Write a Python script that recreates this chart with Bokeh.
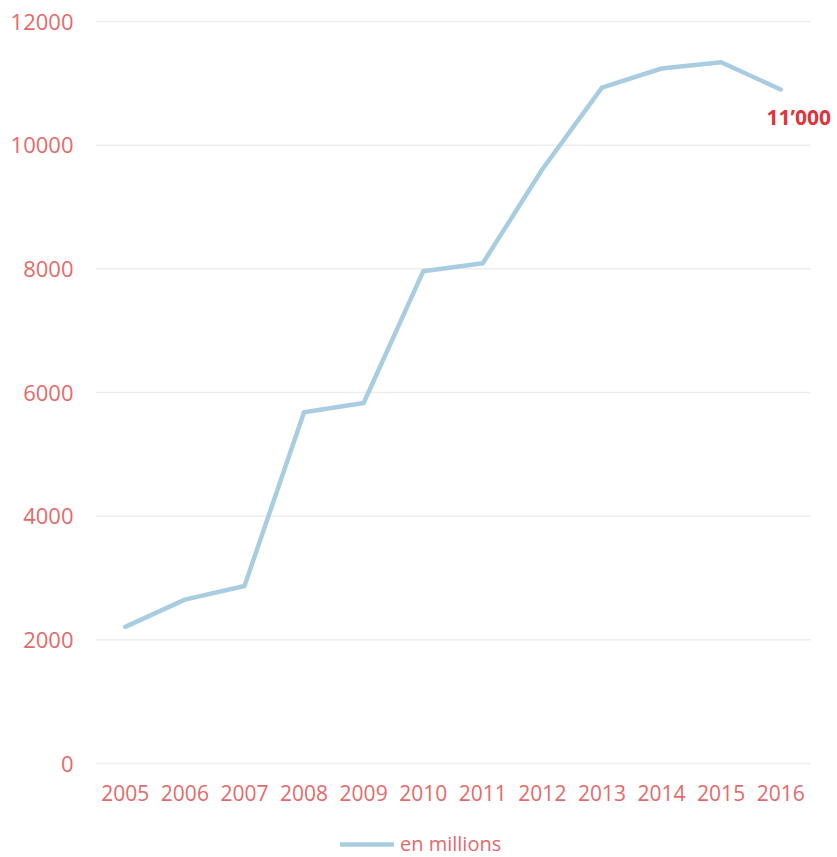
from bokeh.plotting import figure
from bokeh.models import Range1d, FixedTicker, Legend, LegendItem, ColumnDataSource, LabelSet
from bokeh.core.properties import value
from bokeh.embed import file_html
from bokeh.resources import INLINE

years = ["2005", "2006", "2007", "2008", "2009", "2010", "2011", "2012", "2013", "2014", "2015", "2016"]
values = [2210, 2650, 2870, 5680, 5830, 7960, 8090, 9610, 10930, 11240, 11340, 10900]
y_ticks = [0, 2000, 4000, 6000, 8000, 10000, 12000]
series_name = "en millions"
label_year = ["2016"]
label_value = [10900]
label_text = ["11\u2019000"]

FONT = "Open Sans"
TICK_COLOR = "#E46A6A"
LINE_COLOR = "#A9CDE0"

xs = list(range(len(years)))
# frame spans x 95..837 px, y 0..857 px; plot area (Excel) spans 95..810, 21..763
PX_PER_CAT = 715 / len(years)
x_start = -0.5
x_end = x_start + 742 / PX_PER_CAT
PX_PER_UNIT = 742 / 12000
y_start = -(857 - 763) / PX_PER_UNIT
y_end = 12000 + 21 / PX_PER_UNIT

p = figure(width=837, height=857, x_range=Range1d(x_start, x_end), y_range=Range1d(y_start, y_end),
           output_backend="svg", toolbar_location=None,
           min_border_left=95, min_border_right=0, min_border_top=0, min_border_bottom=0)
p.outline_line_color = None
p.background_fill_color = "white"
p.border_fill_color = "white"

p.yaxis.ticker = FixedTicker(ticks=y_ticks)
p.xaxis.ticker = FixedTicker(ticks=xs)
p.xaxis.major_label_overrides = {i: y for i, y in zip(xs, years)}
p.xaxis.fixed_location = 0
for ax in (p.xaxis[0], p.yaxis[0]):
    ax.axis_line_color = None
    ax.major_tick_line_color = None
    ax.minor_tick_line_color = None
    ax.major_tick_out = 0
    ax.major_tick_in = 0
    ax.major_label_text_font = FONT
    ax.major_label_text_color = TICK_COLOR
p.yaxis.major_label_text_font_size = "22px"
p.xaxis.major_label_text_font_size = "21px"
p.yaxis.major_label_standoff = 22
p.xaxis.major_label_standoff = 21

p.xgrid.grid_line_color = None
p.ygrid.grid_line_color = None
# horizontal gridlines across the category span only
p.segment(x0=[xs[0] - 0.5] * len(y_ticks), x1=[xs[-1] + 0.5] * len(y_ticks), y0=y_ticks, y1=y_ticks,
          line_color="#EDEDED", line_width=1.5)

src = ColumnDataSource(dict(x=xs, y=values))
r = p.line(x="x", y="y", source=src, line_color=LINE_COLOR, line_width=4.5, line_join="round", line_cap="round")

lsrc = ColumnDataSource(dict(x=[years.index(v) for v in label_year], y=label_value, t=label_text))
labels = LabelSet(x="x", y="y", text="t", source=lsrc, text_font=value(FONT), text_font_style="bold",
                  text_font_size="21px", text_color="#E0343C", text_align="center", text_baseline="middle",
                  x_offset=18, y_offset=-27)
p.add_layout(labels)

legend = Legend(items=[LegendItem(label=series_name, renderers=[r])],
                location=(245, 0), orientation="horizontal",
                label_text_font=FONT, label_text_font_size="20px", label_text_color=TICK_COLOR,
                glyph_width=54, glyph_height=20, label_standoff=6, padding=0, spacing=0, margin=0,
                border_line_color=None, background_fill_alpha=0)
p.add_layout(legend, "center")

open("out.html", "w").write(file_html(p, INLINE))
